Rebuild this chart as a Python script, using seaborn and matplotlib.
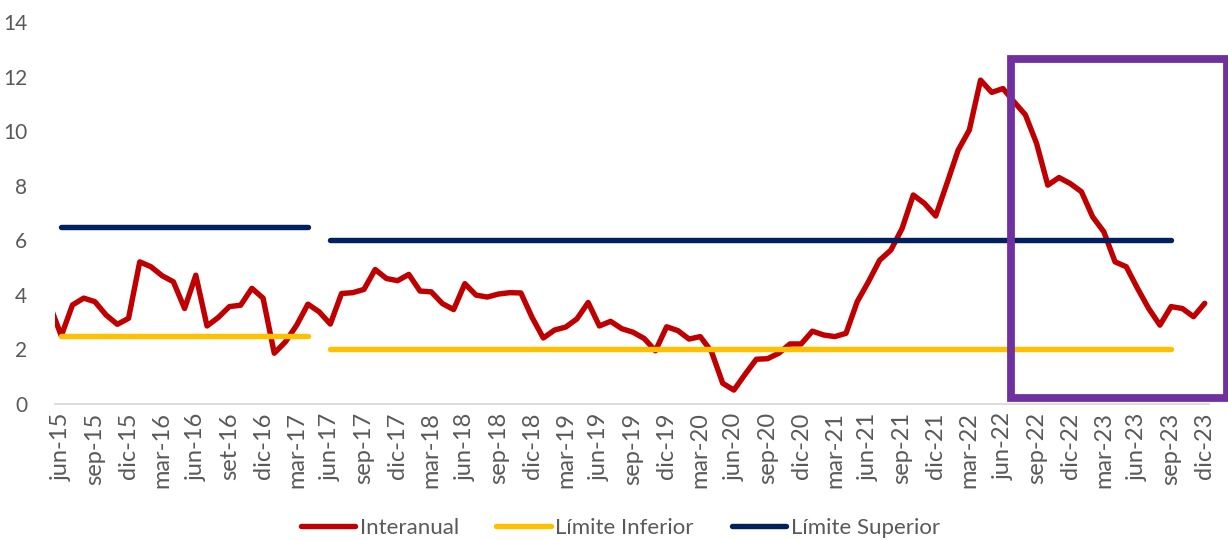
import numpy as np
import pandas as pd
import matplotlib
matplotlib.use("Agg")
import matplotlib.pyplot as plt
from matplotlib.patches import Rectangle
import seaborn as sns

# ---------------- data ----------------
inicio = "2015-05"
fin = "2023-12"
interanual = [
    3.6,
    2.5, 3.63, 3.88, 3.75, 3.26, 2.92, 3.14, 5.21, 5.03, 4.7, 4.48, 3.5,
    4.72, 2.86, 3.17, 3.57, 3.62, 4.24, 3.88, 1.86, 2.28, 2.89, 3.66, 3.38,
    2.93, 4.05, 4.08, 4.2, 4.93, 4.6, 4.52, 4.75, 4.14, 4.11, 3.68, 3.46,
    4.41, 3.99, 3.92, 4.03, 4.08, 4.07, 3.17, 2.42, 2.71, 2.82, 3.12, 3.72,
    2.86, 3.03, 2.76, 2.63, 2.4, 1.95, 2.83, 2.69, 2.38, 2.47, 1.92, 0.76,
    0.51, 1.09, 1.64, 1.66, 1.86, 2.2, 2.2, 2.67, 2.53, 2.47, 2.59, 3.75,
    4.48, 5.27, 5.64, 6.43, 7.66, 7.35, 6.89, 8.08, 9.3, 10.04, 11.87, 11.42,
    11.56, 11.07, 10.6, 9.55, 8.02, 8.3, 8.08, 7.78, 6.86, 6.31, 5.21, 5.03,
    4.24, 3.5, 2.89, 3.57, 3.5, 3.2, 3.69,
]
# (start month, end month, value)
limite_inferior = [("2015-06", "2017-04", 2.5), ("2017-06", "2023-09", 2.0)]
limite_superior = [("2015-06", "2017-04", 6.5), ("2017-06", "2023-09", 6.0)]

etiquetas_x = [
    "jun-15", "sep-15", "dic-15", "mar-16", "jun-16", "set-16", "dic-16", "mar-17",
    "jun-17", "sep-17", "dic-17", "mar-18", "jun-18", "sep-18", "dic-18", "mar-19",
    "jun-19", "sep-19", "dic-19", "mar-20", "jun-20", "sep-20", "dic-20", "mar-21",
    "jun-21", "sep-21", "dic-21", "mar-22", "jun-22", "sep-22", "dic-22", "mar-23",
    "jun-23", "sep-23", "dic-23",
]
primera_etiqueta = "2015-06"
ticks_y = [0, 2, 4, 6, 8, 10, 12, 14]

# highlighted window (annotation box)
resalte_x = (84.7, 103.95)
resalte_y = (0.22, 12.64)

ROJO = "#C00000"
AMARILLO = "#FFC000"
AZUL = "#002060"
MORADO = "#7030A0"
GRIS_TXT = "#595959"

# ---------------- helpers ----------------
base = pd.Period(primera_etiqueta, freq="M")


def pos(periodo):
    return (pd.Period(periodo, freq="M") - base).n


meses = pd.period_range(inicio, fin, freq="M")
df = pd.DataFrame({
    "x": [(m - base).n for m in meses],
    "valor": interanual,
})

sns.set_theme(style="white")
plt.rcParams["font.family"] = ["Lato", "DejaVu Sans"]

fig = plt.figure(figsize=(12.28, 5.4), dpi=100)
ax = fig.add_axes([55 / 1228, 136 / 540, 1154 / 1228, 382 / 540])

LW = 3.9

def tramos(lista, color, label):
    for k, (a, b, v) in enumerate(lista):
        d = pd.DataFrame({"x": [pos(a), pos(b)], "valor": [v, v]})
        sns.lineplot(data=d, x="x", y="valor", ax=ax, color=color, lw=LW,
                     solid_capstyle="round", label=label if k == 0 else None,
                     legend=False)

sns.lineplot(data=df, x="x", y="valor", ax=ax, color=ROJO, lw=LW,
             solid_joinstyle="round", solid_capstyle="round",
             label="Interanual", legend=False)
tramos(limite_inferior, AMARILLO, "Límite Inferior")
tramos(limite_superior, AZUL, "Límite Superior")

ax.add_patch(Rectangle((resalte_x[0], resalte_y[0]),
                       resalte_x[1] - resalte_x[0], resalte_y[1] - resalte_y[0],
                       fill=False, edgecolor=MORADO, lw=5.6, clip_on=False,
                       joinstyle="miter", zorder=5))

ax.set_xlim(-0.56, 102.38)
ax.set_ylim(0, 14)
ax.set_xticks(list(range(0, 3 * len(etiquetas_x), 3)))
ax.set_xticklabels(etiquetas_x, rotation=90, fontsize=17, color=GRIS_TXT)
ax.set_yticks(ticks_y)
ax.set_yticklabels([str(t) for t in ticks_y], fontsize=15, color=GRIS_TXT)
ax.tick_params(axis="x", length=0, pad=6)
ax.tick_params(axis="y", length=0, pad=20)
ax.set_xlabel("")
ax.set_ylabel("")
for s in ["top", "right", "left"]:
    ax.spines[s].set_visible(False)
ax.spines["bottom"].set_color("#D9D9D9")
ax.spines["bottom"].set_linewidth(1.3)
ax.grid(False)

handles, labels = ax.get_legend_handles_labels()
leg = fig.legend(handles, labels, loc="center", bbox_to_anchor=(0.505, 0.022),
                 ncol=3, frameon=False, fontsize=16, handlelength=2.45,
                 handletextpad=0.2, columnspacing=1.7)
for t in leg.get_texts():
    t.set_color(GRIS_TXT)

fig.savefig("out.png", dpi=100)
